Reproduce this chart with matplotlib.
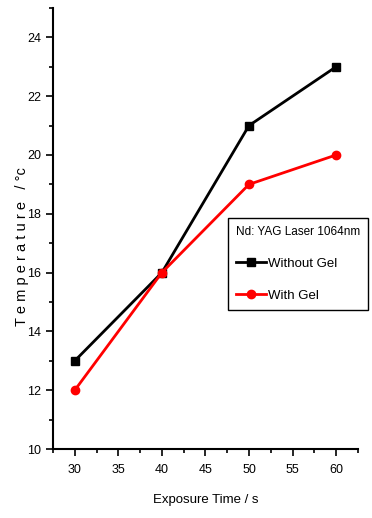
import matplotlib
matplotlib.use('Agg')
import matplotlib.pyplot as plt
from matplotlib.ticker import MultipleLocator

exposure = [30, 40, 50, 60]
temp_without_gel = [13, 16, 21, 23]
temp_with_gel = [12, 16, 19, 20]

plt.rcParams['font.family'] = ['Liberation Sans', 'DejaVu Sans']

fig = plt.figure(figsize=(3.72, 5.18), dpi=100)
ax = fig.add_axes([0.1425, 0.1332, 0.8195, 0.8514])

ax.plot(exposure, temp_without_gel, color='black', lw=2, marker='s', ms=6,
        label='Without Gel')
ax.plot(exposure, temp_with_gel, color='red', lw=2, marker='o', ms=6,
        label='With Gel')

ax.set_xlim(27.5, 62.5)
ax.set_ylim(10, 25)
ax.xaxis.set_major_locator(MultipleLocator(5))
ax.xaxis.set_minor_locator(MultipleLocator(2.5))
ax.yaxis.set_major_locator(MultipleLocator(2))
ax.yaxis.set_minor_locator(MultipleLocator(1))
ax.tick_params(which='both', direction='out', width=1.2, labelsize=9)
ax.tick_params(which='major', length=5)
ax.tick_params(which='minor', length=3)
ax.tick_params(axis='x', pad=6)

for side in ['top', 'right']:
    ax.spines[side].set_visible(False)
for side in ['left', 'bottom']:
    ax.spines[side].set_linewidth(1.5)

ax.set_xlabel('Exposure Time / s', fontsize=9.5, labelpad=13)
ax.set_ylabel('T e m p e r a t u r e   / \u00b0c', fontsize=10.5)
ax.yaxis.set_label_coords(-0.08, 0.46)

# legend box sits partly past the right end of the x axis
leg = ax.legend(title='Nd: YAG Laser 1064nm', loc='upper right',
                bbox_to_anchor=(368 / 372, 1 - 218 / 518),
                bbox_transform=fig.transFigure, fontsize=9.5,
                title_fontsize=8.5, fancybox=False, edgecolor='black',
                handlelength=2.3, handletextpad=0.15, borderpad=0.6,
                borderaxespad=0, labelspacing=1.5, framealpha=1)
leg.get_frame().set_linewidth(1.0)
leg._legend_box.align = 'left'

fig.savefig('out.png', dpi=100)
